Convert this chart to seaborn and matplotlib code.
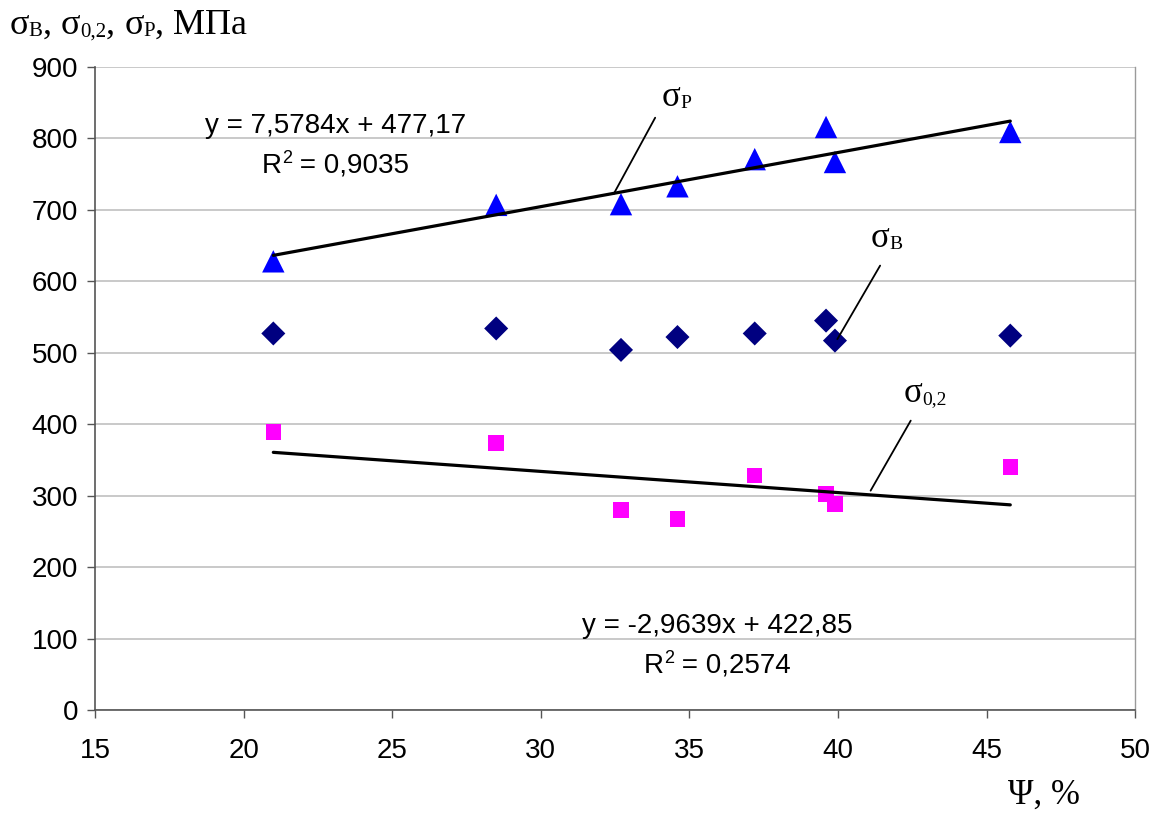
import numpy as np
import pandas as pd
import matplotlib
matplotlib.use("Agg")
import matplotlib.pyplot as plt
from matplotlib.transforms import offset_copy
import seaborn as sns

# Reduction of area, %
psi = [21.0, 28.5, 32.7, 34.6, 37.2, 39.6, 39.9, 45.8]
# Ultimate strength (σР), MPa
sigma_p = [628, 707, 708, 733, 771, 816, 767, 809]
# Tensile strength (σВ), MPa
sigma_b = [527, 534, 504, 522, 527, 545, 517, 524]
# Yield strength (σ0,2), MPa
sigma_02 = [389, 374, 280, 267, 328, 302, 288, 340]

# Linear trend coefficients (slope, intercept) and R²
trend_p = (7.5784, 477.17, 0.9035)
trend_02 = (-2.9639, 422.85, 0.2574)

x_ticks = [15, 20, 25, 30, 35, 40, 45, 50]
y_ticks = [0, 100, 200, 300, 400, 500, 600, 700, 800, 900]

sns.set_theme(style="white")
sans = ["Liberation Sans", "DejaVu Sans"]
serif = ["Liberation Serif", "DejaVu Serif"]
plt.rcParams["font.family"] = sans
plt.rcParams["text.color"] = "black"
plt.rcParams["xtick.labelcolor"] = "black"
plt.rcParams["ytick.labelcolor"] = "black"

fig = plt.figure(figsize=(11.63, 8.14), dpi=100)
ax = fig.add_axes([0.0817, 0.1278, 0.8943, 0.7899])
renderer = fig.canvas.get_renderer()

df = pd.DataFrame({"psi": psi, "p": sigma_p, "b": sigma_b, "s02": sigma_02})

sns.scatterplot(data=df, x="psi", y="p", marker="^", s=260, color="#0000ff",
                edgecolor="none", ax=ax, zorder=3)
sns.scatterplot(data=df, x="psi", y="b", marker="D", s=150, color="#000080",
                edgecolor="none", ax=ax, zorder=3)
sns.scatterplot(data=df, x="psi", y="s02", marker="s", s=125, color="#ff00ff",
                edgecolor="none", ax=ax, zorder=3)

# Trend lines over the data range
x_line = np.array([min(psi), max(psi)])
for k, b, _ in (trend_p, trend_02):
    sns.lineplot(x=x_line, y=k * x_line + b, color="black", linewidth=2.3,
                 ax=ax, zorder=4)

ax.set_xlim(15, 50)
ax.set_ylim(0, 900)
ax.set_xticks(x_ticks)
ax.set_yticks(y_ticks)
ax.set_xlabel("")
ax.set_ylabel("")
ax.yaxis.grid(True, color="#c0c0c0", linewidth=1.2)
ax.xaxis.grid(False)
ax.set_axisbelow(True)
ax.tick_params(axis="both", direction="out", length=6, width=1, color="#555555",
               labelsize=20, labelcolor="black", pad=6, bottom=True, left=True)
ax.tick_params(axis="x", pad=14)
for side in ("left", "bottom"):
    ax.spines[side].set_color("#555555")
    ax.spines[side].set_linewidth(1.2)
ax.spines["right"].set_color("#9a9a9a")
ax.spines["right"].set_linewidth(1.0)
ax.spines["top"].set_visible(False)


def rich_text(x, y, pieces, transform, family, ha="left"):
    """Draw a run of text pieces (text, size, baseline shift in px) side by side."""
    items = []
    offset = 0.0
    for s, size, dy in pieces:
        t = fig.text(x, y, s, transform=transform, fontsize=size, family=family,
                     ha="left", va="baseline", color="black")
        w = t.get_window_extent(renderer).width
        items.append((t, offset, dy))
        offset += w
    start = -offset / 2 if ha == "center" else 0.0
    for t, off, dy in items:
        t.set_transform(offset_copy(transform, fig=fig, x=start + off, y=dy, units="dots"))
    return items


def fmt(v, nd):
    return f"{v:.{nd}f}".replace(".", ",")


def eq_text(k, b):
    sign = "+" if b >= 0 else "-"
    return f"y = {fmt(k, 4)}x {sign} {fmt(abs(b), 2)}"


def trend_label(xc, y_eq, y_r2, trend):
    k, b, r2 = trend
    ax.text(xc, y_eq, eq_text(k, b), ha="center", va="baseline", fontsize=20,
            family=sans, color="black")
    rich_text(xc, y_r2, [("R", 20, 0), ("2", 13, 10), (f" = {fmt(r2, 4)}", 20, 0)],
              ax.transData, sans, ha="center")


trend_label(23.1, 808, 752, trend_p)
trend_label(35.95, 108, 52, trend_02)

# Series labels with leader lines
rich_text(34.55, 845, [("σ", 25, 0), ("Р", 14, -2)], ax.transData, serif, ha="center")
ax.plot([33.85, 32.45], [829, 722], color="black", linewidth=1.3, zorder=5)
rich_text(41.65, 648, [("σ", 25, 0), ("В", 14, -2)], ax.transData, serif, ha="center")
ax.plot([41.42, 39.98], [622, 519], color="black", linewidth=1.3, zorder=5)
rich_text(42.95, 431, [("σ", 25, 0), ("0,2", 14, -2)], ax.transData, serif, ha="center")
ax.plot([42.45, 41.1], [405, 307], color="black", linewidth=1.3, zorder=5)

# Axis titles
rich_text(0.008, 0.958, [("σ", 26, 0), ("В", 15, -2), (", ", 26, 0),
                         ("σ", 26, 0), ("0,2", 15, -2), (", ", 26, 0),
                         ("σ", 26, 0), ("Р", 15, -2), (", МПа", 26, 0)],
          fig.transFigure, serif)
fig.text(0.898, 0.012, "Ψ, %", ha="center", va="baseline", fontsize=25,
         family=serif, color="black")

fig.savefig("out.png", dpi=100, facecolor="white")
